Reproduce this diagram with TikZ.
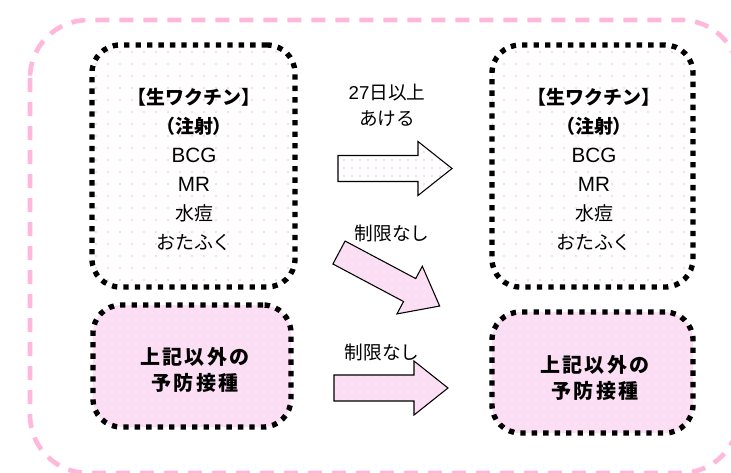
\documentclass[tikz,border=0pt]{standalone}
\usepackage{fontspec}
\newfontfamily\jpfont{Noto Sans CJK JP}
\newfontfamily\jpwide[LetterSpace=12]{Noto Sans CJK JP}
\newfontfamily\latinfont{Liberation Sans}
\usetikzlibrary{patterns.meta}

\definecolor{outerpink}{RGB}{255,184,220}
\definecolor{softpink}{RGB}{252,222,244}
\definecolor{dotpink}{RGB}{248,175,225}

\tikzset{
  dotbox/.style={draw=black, line width=4pt, dash pattern=on 4pt off 4.6pt,
    rounded corners=21pt, inner sep=0pt},
  livebox/.style={dotbox, pattern={Dots[radius=0.7pt,distance=9pt]}, pattern color=dotpink},
  otherbox/.style={dotbox, preaction={fill=softpink},
    pattern={Dots[radius=0.5pt,distance=6pt]}, pattern color=white},
  boxtext/.style={font=\jpfont\fontsize{14.2}{21.75}\selectfont, align=center, inner sep=0pt},
  widetext/.style={font=\jpwide\bfseries\fontsize{15}{20}\selectfont, align=center, inner sep=0pt},
  arrowtext/.style={font=\jpfont\fontsize{14}{19.5}\selectfont, align=center, inner sep=0pt},
  livearrow/.style={draw=black, line width=0.8pt, preaction={fill=white},
    pattern={Dots[radius=0.6pt,distance=6pt]}, pattern color=dotpink},
  otherarrow/.style={draw=black, line width=0.8pt, preaction={fill=softpink},
    pattern={Dots[radius=0.5pt,distance=6pt]}, pattern color=white}
}

\newcommand{\lat}[1]{{\latinfont\fontsize{15.5}{21.75}\selectfont #1}}

% block arrow: style, tail point, angle
\newcommand{\blockarrow}[3]{%
  \begin{scope}[shift={#2}, rotate=#3]
    \draw[#1] (0,-13) -- (80,-13) -- (80,-27) -- (114,0) -- (80,27) -- (80,13) -- (0,13) -- cycle;
  \end{scope}}

\begin{document}
\begin{tikzpicture}[x=0.75pt,y=-0.75pt]
  \useasboundingbox (0,0) rectangle (731,472);

  % outer frame
  \draw[outerpink, line width=3.5pt, dash pattern=on 10.5pt off 7.5pt, rounded corners=43.5pt]
    (30,20) rectangle (739,473);

  % boxes
  \node[livebox, minimum width=152.25pt, minimum height=181.5pt] (liveL) at (193.5,166) {};
  \node[otherbox, minimum width=148.5pt, minimum height=91.5pt] (otherL) at (192,366) {};
  \node[livebox, minimum width=150.75pt, minimum height=181.5pt] (liveR) at (592.5,166) {};
  \node[otherbox, minimum width=150.75pt, minimum height=90.75pt] (otherR) at (592.5,372.5) {};

  \node[boxtext] (liveLtxt) at (194,169.5)
    {{\bfseries 【生ワクチン】}\\{\bfseries （注射）}\\\lat{BCG}\\\lat{MR}\\水痘\\おたふく};
  \node[boxtext] (liveRtxt) at (594,169.5)
    {{\bfseries 【生ワクチン】}\\{\bfseries （注射）}\\\lat{BCG}\\\lat{MR}\\水痘\\おたふく};
  \node[widetext] (otherLtxt) at (195,370) {上記以外の\\予防接種};
  \node[widetext] (otherRtxt) at (595,378) {上記以外の\\予防接種};

  % arrows
  \blockarrow{livearrow}{(338,168.5)}{0}
  \blockarrow{otherarrow}{(339,252.5)}{-28}
  \blockarrow{otherarrow}{(334,388)}{0}

  \node[arrowtext] (gap) at (387,105) {{\latinfont 27}日以上\\あける};
  \node[arrowtext] (free1) at (392,233) {制限なし};
  \node[arrowtext] (free2) at (382,352) {制限なし};
\end{tikzpicture}
\end{document}
